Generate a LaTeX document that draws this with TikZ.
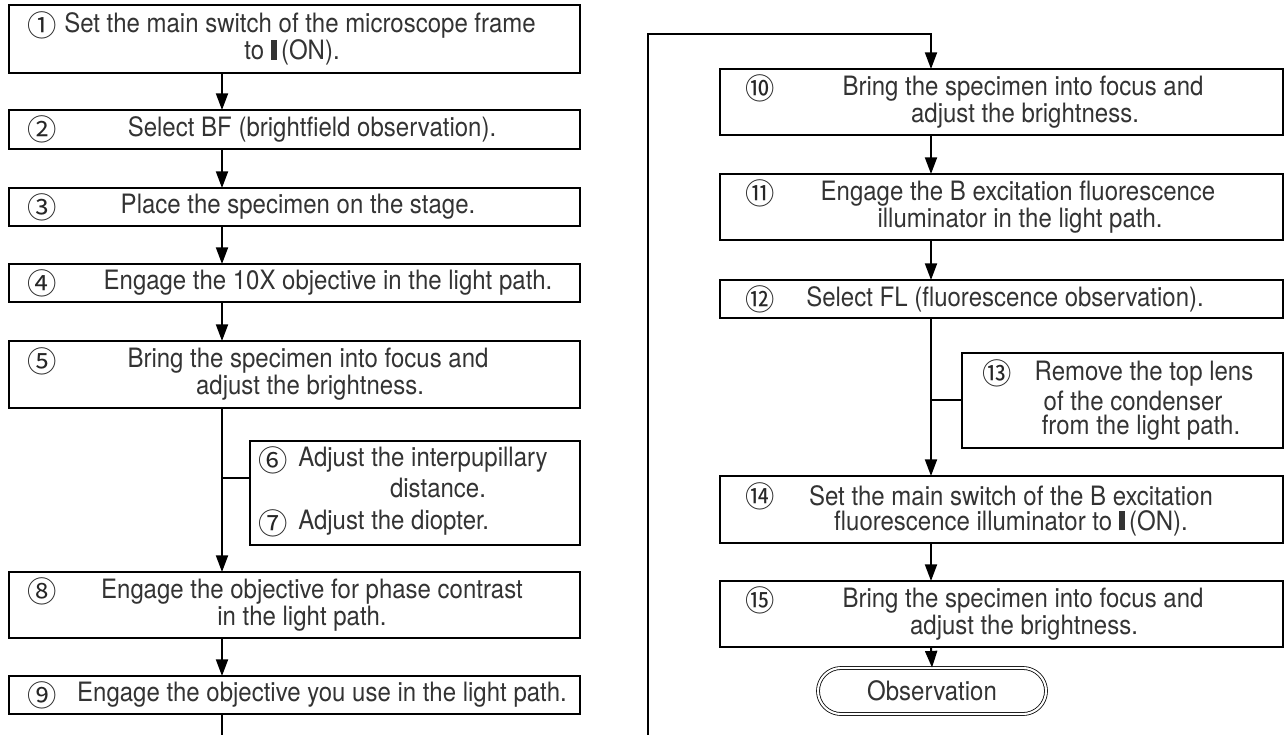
\documentclass[tikz,border=0pt]{standalone}
\usepackage{fontspec}
\setmainfont[FakeStretch=0.9]{TeX Gyre Heros}
\newfontfamily\cjk{Noto Sans CJK JP}
\usetikzlibrary{arrows.meta,shapes.misc}
\newcommand\mybox[5]{\node[box, minimum width={(#4-#2)*0.75pt}, minimum height={(#5-#3)*0.75pt}] (#1) at (#2,#3) {};}
\newcommand\onbar{\rule[-0.01em]{0.22em}{0.74em}}
\begin{document}
\begin{tikzpicture}[x=0.75pt,y=-0.75pt,
  box/.style={draw, line width=1.5pt, inner sep=0pt, outer sep=0pt, anchor=north west},
  txt/.style={font=\fontsize{20pt}{21pt}\selectfont, inner sep=0pt, text=black!80},
  num/.style={font=\cjk\fontsize{22pt}{23pt}\selectfont, inner sep=0pt, text=black!85},
  arr/.style={line width=1.5pt, -{Triangle[width=9pt,length=12.5pt]}},
  ln/.style={line width=1.5pt},
  obs/.style={rounded rectangle, draw, line width=0.6pt, double, double distance=1.6pt,
    minimum width=171pt, minimum height=34.5pt, inner sep=0pt, text=black!80,
    font=\fontsize{20pt}{21pt}\selectfont}]
\useasboundingbox (0,0) rectangle (1285,735);
\clip (0,0) rectangle (1285,735);
\coordinate (L) at (222,0);
\coordinate (R) at (931,0);
% left column boxes
\mybox{n1}{9}{5}{580}{73}
\mybox{n2}{9}{110}{580}{149}
\mybox{n3}{9}{188}{580}{226}
\mybox{n4}{9}{264}{580}{302}
\mybox{n5}{9}{341}{580}{408}
\mybox{n67}{250}{441}{580}{545}
\mybox{n8}{9}{572}{580}{638}
\mybox{n9}{9}{676}{580}{714}
% right column boxes
\mybox{n10}{720}{69}{1283}{135}
\mybox{n11}{720}{174}{1283}{240}
\mybox{n12}{720}{280}{1283}{318}
\mybox{n13}{962}{353}{1283}{448}
\mybox{n14}{720}{476}{1283}{543}
\mybox{n15}{720}{581}{1283}{647}
\node[obs] (nobs) at (932,691) {Observation};
% texts left
\node[num] (m1) at (42,25.5) {①};
\node[txt,anchor=west] (t1a) at (64,25.5) {Set the main switch of the microscope frame};
\node[txt] (t1b) at (292,52.5) {to \onbar\,(ON).};
\node[num] (m2) at (42,129.5) {②};
\node[txt] (t2) at (312,129.5) {Select BF (brightfield observation).};
\node[num] (m3) at (42,207) {③};
\node[txt] (t3) at (298,207) {Place the specimen on the stage.};
\node[num] (m4) at (42,283) {④};
\node[txt] (t4) at (328,283) {Engage the 10X objective in the light path.};
\node[num] (m5) at (42,361) {⑤};
\node[txt] (t5a) at (308,361) {Bring the specimen into focus and};
\node[txt] (t5b) at (310,388) {adjust the brightness.};
\node[num] (m6) at (273,460) {⑥};
\node[txt,anchor=west] (t6a) at (298,460) {Adjust the interpupillary};
\node[txt] (t6b) at (438,488) {distance.};
\node[num] (m7) at (273,523) {⑦};
\node[txt,anchor=west] (t7) at (298,523) {Adjust the diopter.};
\node[num] (m8) at (42,591.5) {⑧};
\node[txt] (t8a) at (312,591.5) {Engage the objective for phase contrast};
\node[txt] (t8b) at (302,618.5) {in the light path.};
\node[num] (m9) at (42,695) {⑨};
\node[txt] (t9) at (322,695) {Engage the objective you use in the light path.};
% texts right
\node[num] (m10) at (760,88.5) {⑩};
\node[txt] (t10a) at (1023,88.5) {Bring the specimen into focus and};
\node[txt] (t10b) at (1025,115.5) {adjust the brightness.};
\node[num] (m11) at (760,193.5) {⑪};
\node[txt] (t11a) at (1018,193.5) {Engage the B excitation fluorescence};
\node[txt] (t11b) at (1020,220.5) {illuminator in the light path.};
\node[num] (m12) at (760,299) {⑫};
\node[txt] (t12) at (1005,299) {Select FL (fluorescence observation).};
\node[num] (m13) at (997,373.5) {⑬};
\node[txt] (t13a) at (1144,373.5) {Remove the top lens};
\node[txt] (t13b) at (1133,400.5) {of the condenser};
\node[txt] (t13c) at (1141,427.5) {from the light path.};
\node[num] (m14) at (760,496) {⑭};
\node[txt] (t14a) at (1011,496) {Set the main switch of the B excitation};
\node[txt] (t14b) at (1011,523) {fluorescence illuminator to \onbar\,(ON).};
\node[num] (m15) at (760,600.5) {⑮};
\node[txt] (t15a) at (1023,600.5) {Bring the specimen into focus and};
\node[txt] (t15b) at (1024,627.5) {adjust the brightness.};
% connectors left
\draw[arr] (n1.south -| L) -- (n2.north -| L);
\draw[arr] (n2.south -| L) -- (n3.north -| L);
\draw[arr] (n3.south -| L) -- (n4.north -| L);
\draw[arr] (n4.south -| L) -- (n5.north -| L);
\draw[arr] (n5.south -| L) -- (n8.north -| L);
\draw[ln] (222,478) -- (n67.west |- 0,478);
\draw[arr] (n8.south -| L) -- (n9.north -| L);
% loop from 9 to 10 (bottom run lies below the visible area)
\draw[arr] (n9.south -| L) -- (222,760) -- (648,760) -- (648,34) -- (931,34) -- (n10.north -| R);
% connectors right
\draw[arr] (n10.south -| R) -- (n11.north -| R);
\draw[arr] (n11.south -| R) -- (n12.north -| R);
\draw[arr] (n12.south -| R) -- (n14.north -| R);
\draw[ln] (931,400) -- (n13.west |- 0,400);
\draw[arr] (n14.south -| R) -- (n15.north -| R);
\draw[arr] (n15.south -| R) -- (nobs.north);
\end{tikzpicture}
\end{document}
